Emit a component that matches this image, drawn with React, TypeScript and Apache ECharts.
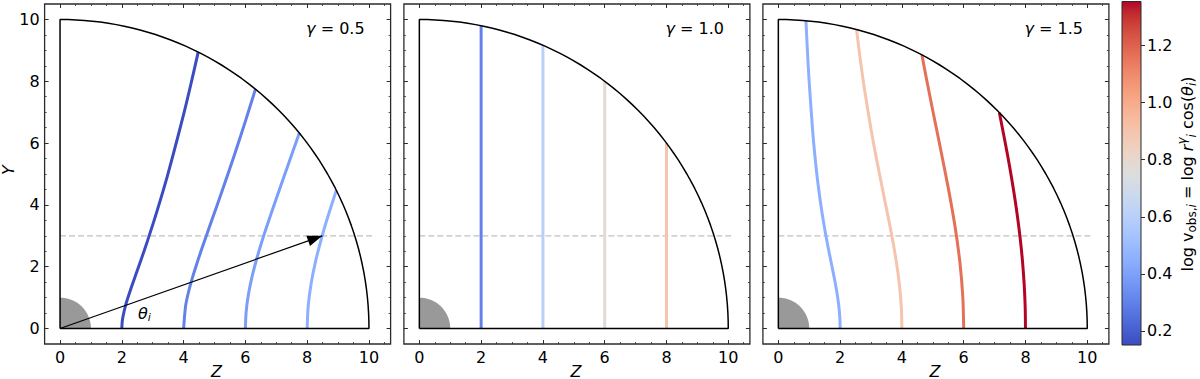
import React, { useEffect, useRef } from "react";
import * as echarts from "echarts";

// ---------- data ----------
const gammaLabels = ["0.5", "1.0", "1.5"];
const majorTicks = [0, 2, 4, 6, 8, 10];
const minorTicksX = [0, 0.5, 1, 1.5, 2, 2.5, 3, 3.5, 4, 4.5, 5, 5.5, 6, 6.5, 7, 7.5, 8, 8.5, 9, 9.5, 10, 10.5];
const minorTicksY = [0, 0.5, 1, 1.5, 2, 2.5, 3, 3.5, 4, 4.5, 5, 5.5, 6, 6.5, 7, 7.5, 8, 8.5, 9, 9.5, 10];
const cbTicks = [0.2, 0.4, 0.6, 0.8, 1.0, 1.2];
const cbMin = 0.1505;
const cbMax = 1.3546;

const outerRadius = 10;
const innerRadius = 1;
const dashY = 3;
const dashEnd = 10.2;
const arrowTip = [8.49, 3.0];

// isovelocity contours [Z, Y] for gamma = 0.5, 1.0, 1.5
const curvesGamma05 = [
  [[2, 0], [2.008, 0.176], [2.031, 0.358], [2.128, 0.775], [2.309, 1.333], [2.611, 2.191], [2.828, 2.828], [3.111, 3.708], [3.487, 4.98], [4, 6.928], [4.26, 8.012], [4.472, 8.944]],
  [[4, 0], [4.062, 0.716], [4.141, 1.11], [4.257, 1.549], [4.414, 2.058], [4.619, 2.667], [4.883, 3.419], [5.222, 4.382], [5.657, 5.657], [5.978, 6.639], [6.325, 7.746]],
  [[6, 0], [6.023, 0.527], [6.093, 1.074], [6.212, 1.664], [6.385, 2.324], [6.62, 3.087], [6.928, 4], [7.324, 5.129], [7.746, 6.325]],
  [[8, 0], [8.031, 0.703], [8.124, 1.432], [8.282, 2.219], [8.513, 3.099], [8.691, 3.689], [8.944, 4.472]],
];
const curvesGamma10 = [
  [[2, 0], [2, 9.798]],
  [[4, 0], [4, 9.165]],
  [[6, 0], [6, 8]],
  [[8, 0], [8, 6]],
];
const curvesGamma15 = [
  [[2, 0], [1.99, 0.351], [1.959, 0.713], [1.906, 1.101], [1.83, 1.536], [1.726, 2.057], [1.587, 2.749], [1.501, 3.219], [1.399, 3.843], [1.274, 4.758], [1.185, 5.575], [1.116, 6.331], [0.992, 8.073], [0.942, 8.963], [0.894, 9.96]],
  [[4, 0], [3.98, 0.702], [3.918, 1.426], [3.813, 2.201], [3.66, 3.072], [3.452, 4.114], [3.175, 5.498], [3.002, 6.438], [2.797, 7.687], [2.655, 8.684], [2.53, 9.675]],
  [[6, 0], [5.969, 1.052], [5.877, 2.139], [5.719, 3.302], [5.489, 4.607], [5.178, 6.171], [4.985, 7.119], [4.762, 8.248], [4.648, 8.854]],
  [[8, 0], [7.99, 0.699], [7.959, 1.403], [7.908, 2.119], [7.836, 2.852], [7.742, 3.61], [7.626, 4.402], [7.486, 5.241], [7.319, 6.143], [7.155, 6.984]],
];
const logvGamma05 = [0.151, 0.301, 0.389, 0.452];
const logvGamma10 = [0.301, 0.602, 0.778, 0.903];
const logvGamma15 = [0.452, 0.903, 1.167, 1.355];

// coolwarm colormap table
const coolwarm = [
  [59, 76, 192], [68, 90, 204], [77, 104, 215], [87, 117, 225], [98, 130, 234], [108, 142, 241], [119, 154, 247], [130, 165, 251],
  [141, 176, 254], [152, 185, 255], [163, 194, 255], [174, 201, 253], [184, 208, 249], [194, 213, 244], [204, 217, 238], [213, 219, 230],
  [221, 221, 221], [229, 216, 209], [236, 211, 197], [241, 204, 184], [245, 196, 172], [247, 187, 159], [247, 177, 147], [247, 166, 134],
  [244, 154, 123], [241, 141, 111], [236, 127, 99], [229, 112, 88], [222, 96, 77], [213, 80, 66], [203, 62, 56], [192, 40, 47], [180, 4, 38],
];

function cmap(v: number): string {
  let t = (v - cbMin) / (cbMax - cbMin);
  t = Math.max(0, Math.min(1, t));
  const f = t * (coolwarm.length - 1);
  const i = Math.min(coolwarm.length - 2, Math.floor(f));
  const a = f - i;
  const c = [0, 1, 2].map((k) => Math.round(coolwarm[i][k] * (1 - a) + coolwarm[i + 1][k] * a));
  return `rgb(${c[0]},${c[1]},${c[2]})`;
}

// ---------- layout ----------
const FONT = "DejaVu Sans";
const panelLefts = [44.6, 403.9, 762.9];
const panelTop = 4;
const panelW = 346;
const panelH = 340;
const xMin = -0.5, xMax = 10.7, yMin = -0.5, yMax = 10.5;
const frameColor = "#2b2b2b";

function arcPoints(r: number) {
  const pts: number[][] = [];
  for (let d = 90; d >= 0; d -= 1.5) {
    const a = (d * Math.PI) / 180;
    pts.push([r * Math.cos(a), r * Math.sin(a)]);
  }
  return pts;
}

export default function App() {
  const ref = useRef<HTMLDivElement>(null);

  useEffect(() => {
    if (!ref.current) return;
    const chart = echarts.init(ref.current, undefined, { renderer: "svg" });

    const grids: any[] = panelLefts.map((left) => ({
      left, top: panelTop, width: panelW, height: panelH,
      show: true, borderColor: frameColor, borderWidth: 1.3, backgroundColor: "#fff",
      containLabel: false, outerBoundsMode: "none",
    }));
    grids.push({
      left: 1122, top: 1.5, width: 19, height: 343.5,
      show: true, borderColor: frameColor, borderWidth: 1,
      backgroundColor: new echarts.graphic.LinearGradient(0, 1, 0, 0,
        coolwarm.map((c, i) => ({ offset: i / (coolwarm.length - 1), color: `rgb(${c[0]},${c[1]},${c[2]})` }))),
      containLabel: false, outerBoundsMode: "none",
    });

    const labelStyle = { color: "#000", fontSize: 16, fontFamily: FONT };
    const xAxes: any[] = [];
    const yAxes: any[] = [];
    panelLefts.forEach((_, p) => {
      const bx = { gridIndex: p, type: "value", min: xMin, max: xMax, splitLine: { show: false }, axisLine: { show: false, onZero: false } };
      const by = { gridIndex: p, type: "value", min: yMin, max: yMax, splitLine: { show: false }, axisLine: { show: false, onZero: false } };
      const major = (vals: number[]) => ({ show: true, inside: true, length: 4, customValues: vals, lineStyle: { color: frameColor, width: 1 } });
      const minor = (vals: number[]) => ({ show: true, inside: true, length: 2, customValues: vals, lineStyle: { color: frameColor, width: 0.8 } });
      xAxes.push(
        { ...bx, position: "bottom", axisTick: major(majorTicks), axisLabel: { show: true, customValues: majorTicks, margin: 5, ...labelStyle } },
        { ...bx, position: "bottom", axisTick: minor(minorTicksX), axisLabel: { show: false } },
        { ...bx, position: "top", axisTick: major(majorTicks), axisLabel: { show: false } },
        { ...bx, position: "top", axisTick: minor(minorTicksX), axisLabel: { show: false } },
      );
      yAxes.push(
        { ...by, position: "left", axisTick: major(majorTicks), axisLabel: { show: p === 0, customValues: majorTicks, margin: 5, ...labelStyle } },
        { ...by, position: "left", axisTick: minor(minorTicksY), axisLabel: { show: false } },
        { ...by, position: "right", axisTick: major(majorTicks), axisLabel: { show: false } },
        { ...by, position: "right", axisTick: minor(minorTicksY), axisLabel: { show: false } },
      );
    });
    xAxes.push({ gridIndex: 3, type: "value", min: 0, max: 1, show: false });
    yAxes.push({
      gridIndex: 3, type: "value", min: cbMin, max: cbMax, position: "right",
      splitLine: { show: false }, axisLine: { show: false, onZero: false },
      axisTick: { show: true, inside: false, length: 4, customValues: cbTicks, lineStyle: { color: frameColor, width: 1 } },
      axisLabel: { show: true, customValues: cbTicks, margin: 6, formatter: (v: number) => v.toFixed(1), ...labelStyle },
    });

    const series: any[] = [];
    const panels = [
      { curves: curvesGamma05, logv: logvGamma05 },
      { curves: curvesGamma10, logv: logvGamma10 },
      { curves: curvesGamma15, logv: logvGamma15 },
    ];
    const boundary = [[0, 0], [outerRadius, 0], ...arcPoints(outerRadius).reverse(), [0, 0]];
    const disk = arcPoints(innerRadius);
    let arrowSeriesIndex = -1;
    panels.forEach((pd, p) => {
      const ax = { xAxisIndex: p * 4, yAxisIndex: p * 4 };
      const common = { type: "line", ...ax, symbol: "none", showSymbol: false, silent: true, animation: false, z: 2 };
      series.push({ ...common, data: disk, lineStyle: { width: 0, opacity: 0 }, areaStyle: { color: "#999999", opacity: 1 } });
      series.push({ ...common, data: [[0, dashY], [dashEnd, dashY]], lineStyle: { color: "#c0c0c0", width: 1.3, type: [6, 3] } });
      pd.curves.forEach((c, i) => {
        series.push({ ...common, data: c, smooth: 0.3, lineStyle: { color: cmap(pd.logv[i]), width: 3, cap: "butt" } });
      });
      series.push({ ...common, data: boundary, lineStyle: { color: "#000", width: 1.5 }, z: 3 });
      if (p === 0) {
        arrowSeriesIndex = series.length;
        series.push({ ...common, data: [[0, 0], arrowTip], lineStyle: { color: "#000", width: 1.2 }, z: 4 });
      }
    });
    series.push({ type: "scatter", xAxisIndex: 12, yAxisIndex: 12, data: [] });

    chart.setOption({ animation: false, grid: grids, xAxis: xAxes, yAxis: yAxes, series });

    // arrow head from converted pixels
    const tip = chart.convertToPixel({ seriesIndex: arrowSeriesIndex }, arrowTip) as number[];
    const tail = chart.convertToPixel({ seriesIndex: arrowSeriesIndex }, [0, 0]) as number[];
    const dx = tip[0] - tail[0], dy = tip[1] - tail[1];
    const len = Math.hypot(dx, dy);
    const ux = dx / len, uy = dy / len;
    const L = 15, hw = 5.5;
    const bx = tip[0] - ux * L, by = tip[1] - uy * L;
    const head = [[tip[0], tip[1]], [bx - uy * hw, by + ux * hw], [bx + uy * hw, by - ux * hw]];

    const graphic: any[] = [];
    graphic.push({ type: "polygon", shape: { points: head }, style: { fill: "#000" }, z: 100 });
    panelLefts.forEach((left, p) => {
      graphic.push({
        type: "text", x: left + panelW - 26, y: 28, z: 100,
        style: {
          text: `{g|γ} = ${gammaLabels[p]}`, align: "right", verticalAlign: "middle",
          fill: "#000", font: `16px '${FONT}'`,
          rich: { g: { fontStyle: "italic", fontSize: 16, fontFamily: FONT, fill: "#000" } },
        },
      });
      graphic.push({
        type: "text", x: left + 172, y: 371, z: 100,
        style: { text: "Z", align: "center", verticalAlign: "middle", fill: "#000", font: `italic 16px '${FONT}'` },
      });
    });
    graphic.push({
      type: "text", x: 8, y: 170, rotation: Math.PI / 2, z: 100,
      style: { text: "Y", align: "center", verticalAlign: "middle", fill: "#000", font: `italic 16px '${FONT}'` },
    });
    graphic.push({
      type: "text", x: 138, y: 313, z: 100,
      style: {
        text: "{t|θ}{s|i}", align: "left", verticalAlign: "middle",
        rich: {
          t: { fontStyle: "italic", fontSize: 16, fontFamily: FONT, fill: "#000", lineHeight: 20 },
          s: { fontStyle: "italic", fontSize: 11, fontFamily: FONT, fill: "#000", lineHeight: 11, verticalAlign: "bottom" },
        },
      },
    });
    graphic.push({
      type: "text", x: 1187, y: 174, rotation: Math.PI / 2, z: 100,
      style: {
        text: "{n|log v}{s|obs,}{si|i}{n| = log }{it|r}{sp|γ}{si|i}{n| cos(}{it|θ}{si|i}{n|)}",
        align: "center", verticalAlign: "middle",
        rich: {
          n: { fontSize: 16, fontFamily: FONT, fill: "#000", lineHeight: 22 },
          it: { fontSize: 16, fontFamily: FONT, fontStyle: "italic", fill: "#000", lineHeight: 22 },
          s: { fontSize: 12, fontFamily: FONT, fill: "#000", lineHeight: 12, verticalAlign: "bottom" },
          si: { fontSize: 12, fontFamily: FONT, fontStyle: "italic", fill: "#000", lineHeight: 12, verticalAlign: "bottom" },
          sp: { fontSize: 12, fontFamily: FONT, fontStyle: "italic", fill: "#000", lineHeight: 12, verticalAlign: "top" },
        },
      },
    });
    chart.setOption({ graphic });

    return () => chart.dispose();
  }, []);

  return <div ref={ref} style={{ position: "fixed", left: 0, top: 0, width: 1200, height: 379, background: "#fff" }} />;
}
